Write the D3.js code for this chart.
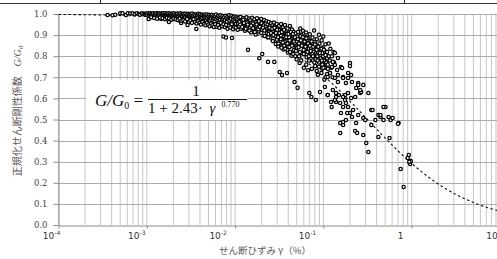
<!DOCTYPE html>
<html>
<head>
<meta charset="utf-8">
<script src="https://cdn.jsdelivr.net/npm/d3@7/dist/d3.min.js"></script>
<style>
  body { margin: 0; background: #fff; }
  svg { display: block; }
</style>
</head>
<body>
<svg id="chart"></svg>
<script>
const W = 497, H = 259;

// axis values
const yTicks = [0, 0.1, 0.2, 0.3, 0.4, 0.5, 0.6, 0.7, 0.8, 0.9, 1.0];
const xDecades = [1e-4, 1e-3, 1e-2, 1e-1, 1, 10];
const xTickBase = ["10", "10", "10", "10", "1", "10"];
const xTickExp = ["-4", "-3", "-2", "-1", "", ""];
const labelShift = [-7, -10, -17, -16, -11, -8];

// fitted curve G/G0 = 1 / (1 + a * gamma^b)
const fitA = 2.43, fitB = 0.770;

// measured points [shear strain (%), G/G0]
const points = [
  [0.00036,0.995],[0.00041,0.994],[0.00044,0.996],[0.00050,1.004],[0.00053,1.003],[0.00058,0.995],
  [0.00061,1.004],[0.00065,1.002],[0.00069,1.003],[0.00073,0.999],[0.00077,1.004],[0.00081,1.0],
  [0.00084,0.996],[0.00088,1.003],[0.00092,1.001],[0.00095,0.998],
  [0.00098,1.002],[0.00100,0.997],[0.00102,1.004],[0.00105,0.976],[0.00106,0.999],[0.00109,1.003],
  [0.00111,0.994],[0.00113,1.001],[0.00116,0.998],[0.00118,1.004],[0.00120,0.992],[0.00123,1.0],
  [0.00125,0.996],[0.00128,1.003],[0.00130,0.989],[0.00133,1.001],[0.00135,0.997],[0.00138,1.004],
  [0.00140,0.993],[0.00143,0.999],[0.00145,0.977],[0.00147,1.002],[0.00150,0.995],[0.00152,1.003],
  [0.00155,0.990],[0.00158,0.998],[0.00160,1.004],[0.00163,0.986],[0.00165,0.996],[0.00168,1.001],
  [0.00171,0.993],[0.00173,0.999],[0.00176,1.003],[0.00178,0.962],[0.00180,0.988],[0.00183,0.997],
  [0.00186,1.002],[0.00189,0.984],[0.00191,0.994],[0.00194,1.0],[0.00197,0.990],[0.00200,0.997],
  [0.00203,1.003],[0.00206,0.981],[0.00208,0.992],[0.00211,0.999],[0.00213,0.987],
  [0.00217,0.996],[0.00220,1.002],[0.00223,0.983],[0.00226,0.991],[0.00229,0.999],[0.00232,0.970],
  [0.00236,0.994],[0.00239,1.003],[0.00242,0.986],[0.00245,0.957],[0.00248,0.997],[0.00252,0.990],
  [0.00256,1.001],[0.00259,0.979],[0.00263,0.993],[0.00267,0.998],[0.00270,0.985],[0.00274,1.002],
  [0.00278,0.973],[0.00281,0.991],[0.00285,0.996],[0.00289,0.948],[0.00293,0.987],[0.00297,1.001],
  [0.00301,0.994],[0.00305,0.981],[0.00310,0.998],[0.00314,0.989],[0.00318,0.975],[0.00322,0.995],
  [0.00327,1.002],[0.00331,0.984],[0.00336,0.992],[0.00340,0.968],[0.00345,0.999],[0.00349,0.987],
  [0.00354,0.993],[0.00359,0.978],[0.00364,0.929],[0.00368,0.997],[0.00373,0.990],[0.00378,0.983],
  [0.00383,1.001],[0.00388,0.971],[0.00393,0.994],[0.00398,0.986],[0.00403,0.999],[0.00409,0.976],
  [0.00414,0.991],[0.00420,0.982],[0.00425,0.996],[0.00431,0.965],[0.00436,0.988],[0.00442,0.993],
  [0.00448,0.979],[0.00454,0.998],[0.00460,0.985],[0.00466,0.972],
  [0.00472,0.993],[0.00478,0.981],[0.00484,0.997],[0.00490,0.962],[0.00496,0.988],[0.00503,0.975],
  [0.00509,0.995],[0.00516,0.984],[0.00522,0.969],[0.00529,0.991],[0.00536,0.979],[0.00543,0.996],
  [0.00550,0.957],[0.00557,0.986],[0.00564,0.972],[0.00571,0.993],[0.00579,0.981],[0.00586,0.964],
  [0.00594,0.989],[0.00601,0.976],[0.00609,0.997],[0.00617,0.952],[0.00625,0.984],[0.00633,0.970],
  [0.00641,0.992],[0.00650,0.979],[0.00658,0.961],[0.00667,0.987],[0.00675,0.973],[0.00684,0.994],
  [0.00693,0.944],[0.00702,0.982],[0.00711,0.967],[0.00720,0.990],[0.00730,0.976],[0.00739,0.893],
  [0.00749,0.985],[0.00759,0.958],[0.00769,0.971],[0.00779,0.992],[0.00789,0.889],[0.00799,0.980],
  [0.00810,0.963],[0.00820,0.987],[0.00831,0.948],[0.00842,0.975],[0.00853,0.994],[0.00864,0.968],
  [0.00875,0.983],[0.00886,0.955],[0.00898,0.978],[0.00910,0.991],[0.00922,0.886],[0.00934,0.962],
  [0.00946,0.984],[0.00958,0.971],[0.00971,0.945],[0.00983,0.988],[0.00996,0.966],[0.01009,0.979],
  [0.01022,0.953],[0.01035,0.985],[0.01048,0.970],
  [0.00112,0.985],[0.00121,0.981],[0.00131,0.978],[0.00141,0.983],[0.00151,0.980],[0.00161,0.975],
  [0.00169,0.982],[0.00179,0.979],[0.00190,0.973],[0.00201,0.978],[0.00212,0.975],[0.00224,0.971],
  [0.00235,0.978],[0.00247,0.968],[0.00260,0.972],[0.00272,0.965],[0.00286,0.976],[0.00299,0.962],
  [0.00312,0.969],[0.00325,0.958],[0.00338,0.975],[0.00352,0.962],[0.00366,0.955],[0.00381,0.966],
  [0.00396,0.958],[0.00411,0.950],[0.00427,0.962],[0.00444,0.953],[0.00461,0.947],[0.00479,0.958],
  [0.00497,0.950],[0.00515,0.942],[0.00534,0.955],[0.00554,0.946],[0.00575,0.938],[0.00596,0.951],
  [0.00618,0.940],[0.00641,0.948],[0.00664,0.935],[0.00688,0.958],[0.00713,0.942],[0.00739,0.951],
  [0.00766,0.938],[0.00794,0.948],[0.00823,0.930],[0.00853,0.944],[0.00884,0.936],[0.00916,0.951],
  [0.00949,0.928],[0.00983,0.940],[0.01018,0.935],
  [0.0106,0.978],[0.0108,0.955],[0.0110,0.983],[0.0111,0.941],[0.0113,0.967],[0.0115,0.986],
  [0.0117,0.930],[0.0119,0.972],[0.0121,0.958],[0.0123,0.981],[0.0125,0.945],[0.0127,0.969],
  [0.0129,0.921],[0.0131,0.976],[0.0133,0.952],[0.0135,0.984],[0.0138,0.937],[0.0140,0.830],
  [0.0142,0.963],[0.0144,0.979],[0.0146,0.948],[0.0149,0.971],[0.0151,0.912],[0.0153,0.958],
  [0.0156,0.982],[0.0158,0.940],[0.0161,0.966],[0.0163,0.927],[0.0166,0.975],[0.0168,0.951],
  [0.0171,0.903],[0.0174,0.962],[0.0177,0.980],[0.0180,0.934],[0.0182,0.957],[0.0185,0.917],
  [0.0188,0.790],[0.0191,0.969],[0.0194,0.945],[0.0197,0.976],[0.0200,0.925],[0.0203,0.810],
  [0.0206,0.960],[0.0209,0.938],[0.0213,0.971],[0.0216,0.896],[0.0219,0.952],[0.0223,0.928],
  [0.0226,0.965],[0.0230,0.909],[0.0112,0.962],[0.0124,0.973],[0.0136,0.960],[0.0147,0.935],
  [0.0159,0.955],[0.0172,0.944],[0.0186,0.966],[0.0199,0.956],[0.0211,0.947],[0.0224,0.941],
  [0.0107,0.925],[0.0114,0.950],[0.0120,0.938],[0.0126,0.957],[0.0132,0.930],[0.0139,0.950],
  [0.0145,0.922],[0.0152,0.945],[0.0160,0.932],[0.0167,0.915],[0.0175,0.950],[0.0183,0.928],
  [0.0190,0.940],[0.0198,0.910],[0.0207,0.935],[0.0215,0.922],[0.0222,0.955],[0.0231,0.930],
  [0.0233,0.951],[0.0236,0.773],[0.0239,0.934],[0.0242,0.962],[0.0245,0.917],[0.0248,0.943],
  [0.0251,0.889],[0.0255,0.956],[0.0258,0.925],[0.0261,0.902],[0.0265,0.947],[0.0268,0.872],
  [0.0271,0.936],[0.0275,0.960],[0.0278,0.773],[0.0281,0.914],[0.0285,0.941],[0.0289,0.858],
  [0.0292,0.927],[0.0296,0.953],[0.0300,0.895],[0.0304,0.932],[0.0308,0.846],[0.0312,0.909],
  [0.0316,0.944],[0.0320,0.725],[0.0324,0.881],[0.0328,0.922],[0.0332,0.953],[0.0336,0.864],
  [0.0340,0.711],[0.0344,0.905],[0.0349,0.937],[0.0353,0.832],[0.0358,0.892],[0.0362,0.918],
  [0.0367,0.948],[0.0372,0.851],[0.0377,0.903],[0.0382,0.874],[0.0387,0.720],[0.0392,0.931],
  [0.0397,0.817],[0.0402,0.889],[0.0407,0.912],[0.0413,0.843],[0.0418,0.943],[0.0424,0.868],
  [0.0430,0.899],[0.0435,0.802],[0.0441,0.926],[0.0447,0.857],[0.0453,0.884],[0.0459,0.916],
  [0.0465,0.829],[0.0471,0.678],[0.0478,0.875],[0.0484,0.908],[0.0490,0.846],[0.0497,0.785],
  [0.0503,0.893],[0.0510,0.650],[0.0240,0.905],[0.0253,0.928],[0.0266,0.918],[0.0283,0.895],
  [0.0298,0.878],[0.0314,0.925],[0.0330,0.898],[0.0346,0.881],[0.0365,0.870],[0.0385,0.905],
  [0.0405,0.862],[0.0427,0.880],[0.0450,0.898],[0.0475,0.861],[0.0500,0.840],
  [0.0238,0.890],[0.0246,0.935],[0.0255,0.910],[0.0263,0.930],[0.0272,0.900],[0.0280,0.935],
  [0.0290,0.910],[0.0299,0.925],[0.0307,0.890],[0.0318,0.910],[0.0327,0.870],[0.0338,0.915],
  [0.0348,0.865],[0.0359,0.925],[0.0370,0.885],[0.0380,0.890],[0.0391,0.860],[0.0403,0.905],
  [0.0415,0.875],[0.0428,0.915],[0.0440,0.850],[0.0452,0.905],[0.0464,0.870],[0.0476,0.890],
  [0.0489,0.825],[0.0502,0.870],
  [0.0310,0.860],[0.0335,0.840],[0.0360,0.850],[0.0390,0.830],[0.0420,0.820],[0.0455,0.810],
  [0.0480,0.800],[0.0330,0.880],[0.0370,0.835],[0.0410,0.890],
  [0.0517,0.915],[0.0524,0.842],[0.0531,0.883],[0.0538,0.768],[0.0546,0.931],[0.0553,0.861],
  [0.0561,0.902],[0.0569,0.814],[0.0577,0.876],[0.0585,0.921],[0.0593,0.848],[0.0601,0.745],
  [0.0610,0.893],[0.0618,0.827],[0.0627,0.869],[0.0636,0.912],[0.0645,0.795],[0.0654,0.854],
  [0.0663,0.887],[0.0672,0.733],[0.0682,0.836],[0.0692,0.626],[0.0701,0.904],[0.0711,0.872],
  [0.0721,0.808],[0.0731,0.607],[0.0742,0.851],[0.0752,0.889],[0.0763,0.779],[0.0774,0.835],
  [0.0785,0.922],[0.0796,0.866],[0.0807,0.753],[0.0819,0.592],[0.0830,0.818],[0.0842,0.880],
  [0.0854,0.846],[0.0866,0.712],[0.0878,0.792],[0.0891,0.902],[0.0903,0.860],[0.0916,0.630],
  [0.0929,0.826],[0.0942,0.771],[0.0956,0.875],[0.0969,0.741],[0.0983,0.841],[0.0997,0.893],
  [0.1011,0.802],[0.1026,0.689],[0.1040,0.654],[0.1055,0.857],[0.1070,0.763],[0.1085,0.821],
  [0.1101,0.716],[0.1116,0.616],[0.0550,0.895],[0.0590,0.870],[0.0630,0.888],[0.0680,0.862],
  [0.0720,0.840],[0.0770,0.858],[0.0820,0.835],[0.0870,0.820],[0.0920,0.800],[0.0970,0.815],
  [0.1020,0.780],[0.1080,0.790],[0.1150,0.860],[0.1200,0.835],[0.1250,0.800],[0.1180,0.780],
  [0.1300,0.820],[0.1230,0.745],[0.1320,0.770],
  [0.0515,0.880],[0.0528,0.860],[0.0542,0.820],[0.0556,0.875],[0.0570,0.850],[0.0584,0.890],
  [0.0598,0.830],[0.0612,0.870],[0.0626,0.845],[0.0641,0.885],[0.0656,0.820],[0.0671,0.860],
  [0.0686,0.800],[0.0702,0.850],[0.0718,0.825],[0.0734,0.870],[0.0750,0.810],[0.0767,0.845],
  [0.0784,0.800],[0.0801,0.855],[0.0819,0.785],[0.0837,0.830],[0.0855,0.800],[0.0874,0.845],
  [0.0893,0.770],[0.0912,0.815],[0.0932,0.790],[0.0952,0.835],[0.0972,0.760],[0.0993,0.800],
  [0.1014,0.830],[0.1036,0.745],[0.1058,0.805],[0.1080,0.770],[0.1103,0.790],[0.1126,0.740],
  [0.1150,0.800],
  [0.0530,0.800],[0.0560,0.780],[0.0600,0.810],[0.0640,0.760],[0.0690,0.780],[0.0740,0.740],
  [0.0790,0.770],[0.0840,0.730],[0.0890,0.750],[0.0950,0.720],[0.1000,0.745],[0.1060,0.700],
  [0.1120,0.760],[0.1190,0.720],[0.1270,0.700],[0.0660,0.820],[0.0760,0.800],[0.0860,0.780],
  [0.0960,0.780],[0.1100,0.820],
  [0.112,0.616],[0.122,0.583],[0.135,0.815],[0.146,0.791],[0.200,0.768],[0.190,0.720],
  [0.235,0.649],[0.176,0.592],[0.206,0.602],[0.139,0.607],[0.135,0.758],[0.158,0.749],
  [0.200,0.754],[0.146,0.711],[0.167,0.701],[0.190,0.697],[0.206,0.711],[0.146,0.678],
  [0.180,0.673],[0.139,0.626],[0.150,0.616],[0.176,0.616],[0.190,0.626],[0.248,0.673],
  [0.283,0.664],[0.229,0.607],[0.261,0.626],[0.268,0.630],[0.323,0.626],[0.139,0.583],
  [0.155,0.578],[0.180,0.578],[0.190,0.559],[0.158,0.531],[0.200,0.531],[0.217,0.545],
  [0.248,0.521],[0.283,0.507],[0.349,0.545],[0.155,0.483],[0.180,0.498],[0.167,0.474],
  [0.235,0.483],[0.298,0.498],[0.349,0.474],[0.420,0.521],[0.443,0.512],[0.505,0.559],
  [0.388,0.498],[0.479,0.498],[0.577,0.498],[0.608,0.507],[0.711,0.483],[0.700,0.480],
  [0.155,0.436],[0.229,0.445],[0.241,0.436],[0.283,0.427],[0.306,0.389],[0.323,0.346],
  [0.420,0.417],[0.561,0.412],
  [0.128,0.773],[0.125,0.749],[0.143,0.735],[0.163,0.744],[0.112,0.701],[0.135,0.697],
  [0.167,0.697],[0.211,0.678],[0.248,0.664],[0.261,0.640],[0.128,0.640],[0.135,0.592],
  [0.167,0.607],[0.124,0.559],[0.167,0.559],[0.186,0.531],[0.479,0.559],[0.360,0.545],
  [0.443,0.521],[0.547,0.512],[0.167,0.488],[0.211,0.512],
  [0.926,0.332],[0.902,0.318],[0.950,0.294],[0.960,0.289],[0.977,0.303],[0.940,0.300],
  [0.750,0.265],[0.811,0.180]
];

const svg = d3.select('#chart')
    .attr('width', W)
    .attr('height', H);

svg.append('rect')
    .attr('width', W)
    .attr('height', H)
    .attr('fill', '#fff');

// table border strip at the very top
svg.append('line')
    .attr('x1', 0).attr('x2', W)
    .attr('y1', 3.5).attr('y2', 3.5)
    .attr('stroke', '#333').attr('stroke-width', 1);
[100.5, 230.5, 404.5].forEach(xx => {
    svg.append('line')
        .attr('x1', xx).attr('x2', xx)
        .attr('y1', 0).attr('y2', 3.5)
        .attr('stroke', '#333').attr('stroke-width', 1);
});

let x = d3.scaleLog()
    .domain([1e-4, 10])
    .range([58.5, 500]);

let y = d3.scaleLinear()
    .domain([0, 1])
    .range([225, 14]);

// vertical log grid (1..9 per decade)
let minor = [];
xDecades.slice(0, -1).forEach(d => {
    for (let m = 1; m <= 9; m++) minor.push(d * m);
});
minor.push(10);

svg.append('g')
    .selectAll('line')
    .data(minor)
    .enter()
    .append('line')
    .attr('x1', d => x(d)).attr('x2', d => x(d))
    .attr('y1', y(1)).attr('y2', y(0))
    .attr('stroke', '#c6c6c6')
    .attr('stroke-width', 1);

// horizontal grid
svg.append('g')
    .selectAll('line')
    .data(yTicks.slice(1))
    .enter()
    .append('line')
    .attr('x1', x(1e-4)).attr('x2', W)
    .attr('y1', d => Math.round(y(d)) + 0.5).attr('y2', d => Math.round(y(d)) + 0.5)
    .attr('stroke', '#ababab')
    .attr('stroke-width', 1);

// y axis
let yAxis = svg.append('g')
    .attr('transform', 'translate(' + 58.5 + ',0)')
    .call(d3.axisLeft(y)
        .tickValues(yTicks)
        .tickSize(5)
        .tickSizeOuter(0)
        .tickPadding(6)
        .tickFormat(d3.format('.1f')));
yAxis.select('.domain').attr('stroke', '#8c8c8c');
yAxis.selectAll('.tick line').attr('stroke', '#8c8c8c');
yAxis.selectAll('.tick text')
    .attr('font-family', 'DejaVu Serif')
    .attr('font-size', 8.5)
    .attr('fill', '#404040');

// x axis
let xAxis = svg.append('g')
    .attr('transform', 'translate(0,' + 225.5 + ')')
    .call(d3.axisBottom(x)
        .tickValues(xDecades)
        .tickSize(3)
        .tickSizeOuter(0)
        .tickFormat(''));
xAxis.select('.domain').attr('stroke', '#8c8c8c');
xAxis.selectAll('.tick line').attr('stroke', '#8c8c8c');

xDecades.forEach((d, i) => {
    let t = svg.append('text')
        .attr('x', x(d) + labelShift[i])
        .attr('y', 239)
        .attr('text-anchor', 'middle')
        .attr('font-family', 'DejaVu Sans')
        .attr('font-size', 9)
        .attr('fill', '#333');
    t.append('tspan').text(xTickBase[i]);
    if (xTickExp[i] != '') {
        t.append('tspan')
            .attr('font-size', 6)
            .attr('dy', -4)
            .text(xTickExp[i]);
    }
});

// axis titles
let yt = svg.append('text')
    .attr('transform', 'translate(21,111) rotate(-90)')
    .attr('text-anchor', 'middle')
    .attr('font-size', 10)
    .attr('fill', '#595959');
yt.append('tspan')
    .attr('font-family', 'Noto Sans CJK JP')
    .text('正規化せん断剛性係数　');
yt.append('tspan')
    .attr('font-family', 'Liberation Serif')
    .attr('font-style', 'italic')
    .text('G/G');
yt.append('tspan')
    .attr('font-family', 'Liberation Serif')
    .attr('font-style', 'italic')
    .attr('font-size', 7)
    .attr('dy', 1.5)
    .text('0');

svg.append('text')
    .attr('x', 265)
    .attr('y', 254)
    .attr('text-anchor', 'middle')
    .attr('font-family', 'Noto Sans CJK JP')
    .attr('font-size', 9.5)
    .attr('fill', '#595959')
    .text('せん断ひずみ γ（%）');

// formula box
svg.append('rect')
    .attr('x', 86).attr('y', 80)
    .attr('width', 162).attr('height', 40)
    .attr('fill', '#fff');

let f = svg.append('text')
    .attr('x', 95)
    .attr('y', 106)
    .attr('font-family', 'Liberation Serif')
    .attr('font-size', 17)
    .attr('fill', '#111');
f.append('tspan').attr('font-style', 'italic').text('G/G');
f.append('tspan').attr('font-size', 10).attr('dy', 3).text('0');
f.append('tspan').attr('dy', -3).text(' =');

svg.append('line')
    .attr('x1', 148).attr('x2', 247)
    .attr('y1', 99.5).attr('y2', 99.5)
    .attr('stroke', '#111').attr('stroke-width', 1);

svg.append('text')
    .attr('x', 196)
    .attr('y', 96)
    .attr('text-anchor', 'middle')
    .attr('font-family', 'Liberation Serif')
    .attr('font-size', 15)
    .attr('fill', '#111')
    .text('1');

let den = svg.append('text')
    .attr('x', 148)
    .attr('y', 113)
    .attr('font-family', 'Liberation Serif')
    .attr('font-size', 15)
    .attr('fill', '#111');
den.append('tspan').text('1 + ' + fitA.toFixed(2) + '· ');
den.append('tspan').attr('font-style', 'italic').attr('dx', 3).text('γ');
den.append('tspan').attr('font-size', 8).attr('dy', -6).attr('dx', 6).text(fitB.toFixed(3));

// fitted curve (dashed)
let Line = d3.line()
    .x(d => x(d))
    .y(d => y(1 / (1 + fitA * Math.pow(d, fitB))));

let gam = d3.range(-4, 1.31, 0.02).map(e => Math.pow(10, e));

svg.append('path')
    .attr('d', Line(gam))
    .attr('fill', 'none')
    .attr('stroke', '#111')
    .attr('stroke-width', 1.1)
    .attr('stroke-dasharray', '2.5,2.5');

// scatter points
svg.append('g')
    .selectAll('circle')
    .data(points)
    .enter()
    .append('circle')
    .attr('cx', d => x(d[0]))
    .attr('cy', d => y(d[1]))
    .attr('r', 1.65)
    .attr('fill', '#fff')
    .attr('stroke', '#000')
    .attr('stroke-width', 1.25);
</script>
</body>
</html>
